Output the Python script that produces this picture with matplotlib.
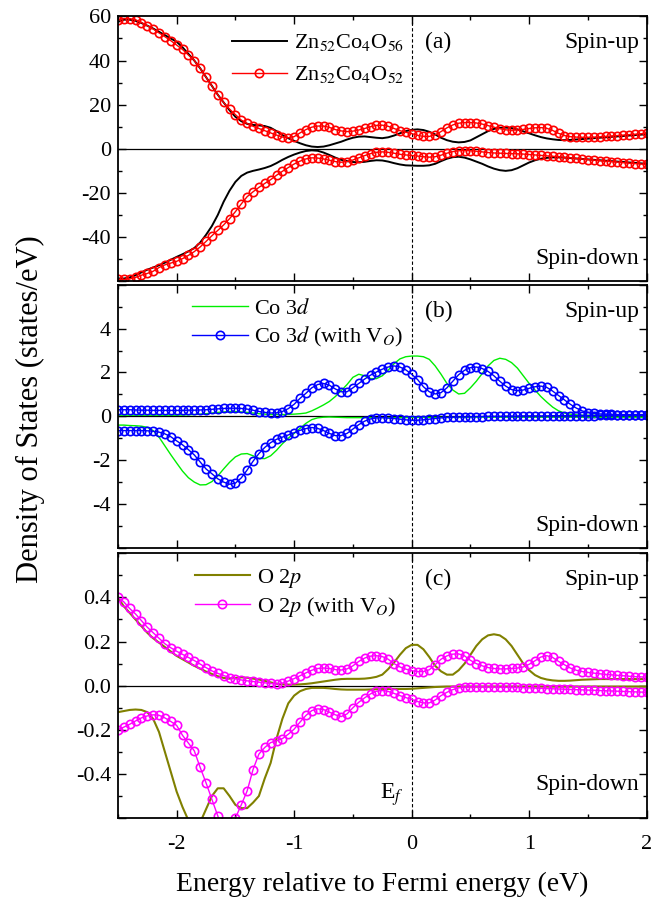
# Spin-resolved DOS of Zn52Co4O56 with and without oxygen vacancy

import numpy as np
import matplotlib
matplotlib.use('Agg')
import matplotlib.pyplot as plt
from matplotlib.ticker import MultipleLocator

plt.rcParams['font.family'] = ['Liberation Serif', 'DejaVu Serif']
plt.rcParams['mathtext.fontset'] = 'stix'
plt.rcParams['axes.unicode_minus'] = False

# Energy grid (eV), every 0.05 eV from -2.5 to 2.0
energy = np.linspace(-2.5, 2.0, 91)

# (a) total DOS
zn_up = [57.5, 58.5, 58.5, 58.0, 57.0, 55.8, 54.5, 53.0, 51.5, 50.0,
         48.5, 46.0, 43.0, 40.0, 36.5, 32.5, 28.5, 24.5, 21.0, 17.5,
         14.5, 12.5, 11.3, 10.8, 10.6, 10.3, 9.5, 8.0, 6.2, 4.8,
         3.6, 2.5, 1.6, 1.0, 0.8, 1.0, 1.6, 2.4, 3.2, 4.2,
         5.0, 5.5, 5.6, 5.3, 5.0, 4.8, 5.2, 6.0, 7.0, 8.0,
         8.6, 8.8, 8.5, 7.7, 6.5, 5.0, 3.9, 3.2, 2.9, 3.1,
         3.8, 5.2, 6.6, 8.0, 9.0, 9.5, 9.6, 9.4, 8.8, 7.9,
         7.0, 6.1, 5.3, 4.7, 4.3, 4.0, 3.9, 4.0, 4.2, 4.4,
         4.6, 4.8, 5.0, 5.2, 5.4, 5.6, 5.8, 6.0, 6.2, 6.4,
         6.6]
zn_dn = [-58.8, -58.8, -58.3, -57.3, -56.0, -54.8, -53.8, -52.8, -51.6, -50.3,
         -49.0, -47.8, -46.5, -45.0, -42.5, -39.0, -35.0, -30.0, -24.0, -19.0,
         -15.0, -12.3, -10.8, -10.0, -9.4, -8.7, -7.8, -6.5, -5.0, -3.7,
         -2.6, -1.7, -1.0, -0.7, -0.9, -1.7, -2.8, -4.0, -5.0, -5.6,
         -6.0, -6.1, -5.9, -5.5, -5.2, -5.3, -5.8, -6.5, -7.1, -7.5,
         -7.6, -7.7, -7.7, -7.5, -6.8, -5.6, -4.5, -3.8, -3.6, -4.0,
         -4.8, -5.8, -6.8, -8.0, -9.0, -9.7, -10.0, -9.7, -8.8, -7.5,
         -6.2, -5.2, -4.5, -4.1, -3.9, -3.9, -4.0, -4.2, -4.4, -4.6,
         -4.8, -5.0, -5.2, -5.4, -5.6, -5.8, -6.0, -6.2, -6.4, -6.6,
         -6.8]
znv_up = [58.5, 59.0, 59.0, 58.5, 57.2, 55.8, 54.3, 52.5, 50.8, 49.0,
          47.0, 45.0, 42.5, 40.0, 36.5, 32.5, 28.5, 24.5, 21.0, 18.0,
          15.5, 13.0, 11.5, 10.2, 9.2, 8.2, 7.2, 6.2, 5.3, 5.0,
          5.5, 7.2, 8.7, 9.8, 10.3, 10.3, 9.7, 8.7, 8.1, 7.8,
          8.0, 8.5, 9.2, 10.0, 10.6, 10.7, 10.2, 9.2, 8.2, 7.5,
          6.9, 6.1, 5.6, 5.6, 6.3, 7.8, 9.5, 10.8, 11.6, 11.9,
          11.9, 11.7, 11.2, 10.5, 9.8, 9.1, 8.6, 8.4, 8.5, 8.8,
          9.2, 9.5, 9.6, 9.3, 8.3, 7.0, 6.0, 5.5, 5.3, 5.2,
          5.2, 5.3, 5.4, 5.6, 5.8, 6.0, 6.2, 6.4, 6.6, 6.8,
          7.0]
znv_dn = [-59.2, -59.2, -59.0, -58.3, -57.3, -56.5, -55.5, -53.8, -52.6, -51.8,
          -51.0, -49.8, -48.3, -46.6, -44.5, -42.0, -39.4, -37.0, -34.5, -31.7,
          -28.5, -25.0, -21.7, -19.5, -17.5, -15.7, -14.0, -12.0, -10.2, -8.5,
          -6.9, -5.6, -4.6, -4.1, -4.2, -4.6, -5.2, -5.8, -6.1, -5.8,
          -5.1, -4.1, -3.1, -2.2, -1.6, -1.4, -1.6, -2.0, -2.5, -2.8,
          -3.0, -3.3, -3.6, -3.8, -3.6, -2.9, -2.0, -1.3, -0.9, -0.8,
          -0.9, -1.1, -1.4, -1.7, -1.9, -2.0, -2.1, -2.2, -2.3, -2.4,
          -2.6, -2.8, -3.0, -3.2, -3.4, -3.6, -3.9, -4.1, -4.4, -4.6,
          -4.9, -5.1, -5.4, -5.6, -5.8, -6.0, -6.3, -6.5, -6.7, -6.9,
          -7.1]

# (b) Co 3d
co_up = [0.05, 0.05, 0.05, 0.05, 0.05, 0.05, 0.05, 0.05, 0.05, 0.05,
         0.05, 0.06, 0.07, 0.08, 0.10, 0.12, 0.15, 0.18, 0.20, 0.22,
         0.22, 0.20, 0.18, 0.15, 0.12, 0.10, 0.08, 0.08, 0.08, 0.09,
         0.10, 0.12, 0.15, 0.25, 0.38, 0.52, 0.68, 0.90, 1.17, 1.45,
         1.78, 1.92, 1.85, 1.72, 1.72, 1.85, 2.10, 2.40, 2.62, 2.72,
         2.75, 2.75, 2.72, 2.60, 2.30, 1.92, 1.50, 1.20, 1.02, 1.05,
         1.30, 1.60, 1.95, 2.30, 2.55, 2.65, 2.60, 2.45, 2.20, 1.85,
         1.50, 1.20, 0.90, 0.65, 0.42, 0.25, 0.15, 0.10, 0.07, 0.05,
         0.05, 0.05, 0.05, 0.05, 0.05, 0.05, 0.05, 0.05, 0.05, 0.05,
         0.05]
co_dn = [-0.40, -0.40, -0.42, -0.43, -0.45, -0.50, -0.65, -0.95, -1.35, -1.75,
         -2.13, -2.50, -2.80, -3.00, -3.13, -3.12, -2.98, -2.72, -2.40, -2.10,
         -1.85, -1.72, -1.70, -1.80, -1.92, -1.93, -1.80, -1.55, -1.25, -1.00,
         -0.78, -0.55, -0.32, -0.15, -0.07, -0.04, -0.03, -0.04, -0.05, -0.06,
         -0.06, -0.06, -0.06, -0.06, -0.06, -0.06, -0.06, -0.06, -0.06, -0.06,
         -0.05, -0.05, -0.05, -0.05, -0.05, -0.05, -0.05, -0.05, -0.05, -0.05,
         -0.04, -0.04, -0.04, -0.04, -0.04, -0.04, -0.04, -0.04, -0.04, -0.04,
         -0.04, -0.04, -0.04, -0.04, -0.04, -0.04, -0.04, -0.04, -0.04, -0.04,
         -0.04, -0.04, -0.04, -0.04, -0.04, -0.04, -0.04, -0.04, -0.04, -0.04,
         -0.04]
cov_up = [0.30, 0.30, 0.30, 0.29, 0.28, 0.28, 0.27, 0.27, 0.27, 0.27,
          0.27, 0.27, 0.28, 0.28, 0.29, 0.30, 0.32, 0.34, 0.36, 0.37,
          0.37, 0.36, 0.33, 0.28, 0.22, 0.18, 0.15, 0.16, 0.22, 0.35,
          0.55, 0.82, 1.05, 1.30, 1.45, 1.50, 1.42, 1.25, 1.12, 1.12,
          1.30, 1.50, 1.70, 1.88, 2.02, 2.15, 2.25, 2.30, 2.25, 2.12,
          1.92, 1.68, 1.35, 1.12, 1.02, 1.08, 1.30, 1.60, 1.90, 2.10,
          2.22, 2.25, 2.18, 2.05, 1.85, 1.60, 1.38, 1.22, 1.17, 1.20,
          1.28, 1.35, 1.38, 1.32, 1.15, 0.95, 0.75, 0.55, 0.38, 0.25,
          0.17, 0.13, 0.11, 0.10, 0.09, 0.08, 0.08, 0.08, 0.08, 0.08,
          0.08]
cov_dn = [-0.65, -0.65, -0.65, -0.65, -0.65, -0.66, -0.68, -0.72, -0.80, -0.93,
          -1.12, -1.30, -1.52, -1.76, -2.08, -2.40, -2.62, -2.85, -3.00, -3.10,
          -3.05, -2.81, -2.45, -2.05, -1.70, -1.42, -1.20, -1.05, -0.95, -0.85,
          -0.75, -0.64, -0.56, -0.51, -0.55, -0.65, -0.78, -0.88, -0.88, -0.78,
          -0.58, -0.38, -0.22, -0.12, -0.07, -0.06, -0.08, -0.10, -0.13, -0.16,
          -0.18, -0.18, -0.16, -0.13, -0.10, -0.07, -0.05, -0.04, -0.03, -0.02,
          -0.02, -0.01, -0.01, 0.00, 0.00, 0.00, 0.01, 0.01, 0.01, 0.02,
          0.02, 0.02, 0.02, 0.02, 0.03, 0.03, 0.03, 0.03, 0.03, 0.03,
          0.03, 0.03, 0.04, 0.04, 0.04, 0.04, 0.04, 0.05, 0.05, 0.05,
          0.05]

# (c) O 2p
o_up = [0.400, 0.360, 0.330, 0.300, 0.270, 0.240, 0.215, 0.195, 0.175, 0.155,
        0.135, 0.120, 0.105, 0.090, 0.077, 0.064, 0.053, 0.043, 0.035, 0.032,
        0.035, 0.038, 0.036, 0.032, 0.028, 0.022, 0.015, 0.009, 0.006, 0.005,
        0.005, 0.006, 0.008, 0.011, 0.015, 0.019, 0.023, 0.027, 0.030, 0.031,
        0.031, 0.031, 0.032, 0.035, 0.040, 0.050, 0.075, 0.105, 0.140, 0.170,
        0.185, 0.185, 0.165, 0.130, 0.090, 0.065, 0.050, 0.050, 0.070, 0.100,
        0.140, 0.180, 0.210, 0.228, 0.233, 0.228, 0.210, 0.180, 0.140, 0.100,
        0.070, 0.048, 0.035, 0.028, 0.024, 0.022, 0.022, 0.023, 0.025, 0.027,
        0.028, 0.029, 0.030, 0.030, 0.030, 0.030, 0.030, 0.030, 0.030, 0.030,
        0.030]
o_dn = [-0.120, -0.115, -0.110, -0.108, -0.110, -0.120, -0.150, -0.210, -0.300, -0.390,
        -0.480, -0.550, -0.610, -0.650, -0.620, -0.560, -0.500, -0.465, -0.465, -0.500,
        -0.540, -0.555, -0.555, -0.530, -0.500, -0.420, -0.350, -0.240, -0.150, -0.080,
        -0.045, -0.025, -0.015, -0.010, -0.010, -0.010, -0.012, -0.015, -0.017, -0.018,
        -0.018, -0.018, -0.018, -0.017, -0.016, -0.015, -0.015, -0.015, -0.015, -0.015,
        -0.014, -0.012, -0.010, -0.008, -0.006, -0.005, -0.004, -0.004, -0.004, -0.004,
        -0.004, -0.004, -0.004, -0.004, -0.004, -0.004, -0.004, -0.004, -0.004, -0.004,
        -0.004, -0.004, -0.004, -0.004, -0.004, -0.004, -0.004, -0.004, -0.004, -0.004,
        -0.004, -0.004, -0.004, -0.004, -0.004, -0.004, -0.004, -0.004, -0.004, -0.004,
        -0.004]
ov_up = [0.400, 0.380, 0.350, 0.325, 0.295, 0.265, 0.240, 0.215, 0.190, 0.172,
         0.156, 0.142, 0.128, 0.114, 0.098, 0.082, 0.067, 0.056, 0.046, 0.037,
         0.031, 0.026, 0.022, 0.019, 0.016, 0.013, 0.010, 0.008, 0.012, 0.021,
         0.032, 0.045, 0.058, 0.070, 0.078, 0.080, 0.078, 0.073, 0.071, 0.076,
         0.090, 0.110, 0.125, 0.134, 0.136, 0.132, 0.120, 0.100, 0.085, 0.075,
         0.068, 0.064, 0.064, 0.072, 0.095, 0.120, 0.135, 0.143, 0.144, 0.135,
         0.115, 0.100, 0.090, 0.082, 0.078, 0.076, 0.076, 0.078, 0.080, 0.085,
         0.097, 0.113, 0.130, 0.136, 0.128, 0.110, 0.095, 0.080, 0.070, 0.064,
         0.060, 0.057, 0.054, 0.051, 0.049, 0.047, 0.045, 0.043, 0.041, 0.040,
         0.038]
ov_dn = [-0.200, -0.188, -0.175, -0.160, -0.146, -0.137, -0.132, -0.134, -0.146, -0.162,
         -0.180, -0.225, -0.260, -0.295, -0.370, -0.440, -0.515, -0.590, -0.660, -0.670,
         -0.600, -0.540, -0.477, -0.380, -0.310, -0.280, -0.258, -0.250, -0.240, -0.220,
         -0.197, -0.165, -0.135, -0.113, -0.105, -0.108, -0.120, -0.132, -0.140, -0.128,
         -0.100, -0.075, -0.055, -0.037, -0.025, -0.022, -0.026, -0.035, -0.045, -0.054,
         -0.062, -0.072, -0.078, -0.078, -0.065, -0.045, -0.030, -0.018, -0.010, -0.006,
         -0.005, -0.005, -0.005, -0.006, -0.006, -0.007, -0.007, -0.008, -0.008, -0.009,
         -0.010, -0.011, -0.012, -0.013, -0.014, -0.015, -0.016, -0.017, -0.018, -0.019,
         -0.020, -0.021, -0.022, -0.023, -0.024, -0.025, -0.026, -0.027, -0.028, -0.029,
         -0.030]

fig = plt.figure(figsize=(6.66, 9.10), dpi=100)
left, width = 0.177, 0.794
axa = fig.add_axes([left, 0.691, width, 0.291])
axb = fig.add_axes([left, 0.398, width, 0.289])
axc = fig.add_axes([left, 0.101, width, 0.291])

mk = dict(marker='o', markersize=6, mfc='none', mew=1.2, lw=1.0)
fs = 16   # tick labels
ts = 17   # panel annotations
leg = dict(loc='upper left', frameon=False, fontsize=16, handlelength=2.5,
           handletextpad=0.3, borderaxespad=0.2)


def style(ax, ylim, major, minor, fmt, letter, down_y):
    ax.set_xlim(-2.5, 2.0)
    ax.set_ylim(*ylim)
    ax.axhline(0, color='k', lw=0.9, zorder=1)
    ax.axvline(0, color='k', lw=0.8, ls=(0, (3, 2)), zorder=1)
    ax.xaxis.set_major_locator(MultipleLocator(1))
    ax.xaxis.set_minor_locator(MultipleLocator(0.5))
    ax.yaxis.set_major_locator(MultipleLocator(major))
    ax.yaxis.set_minor_locator(MultipleLocator(minor))
    ax.yaxis.set_major_formatter(fmt)
    ax.tick_params(which='both', direction='in', top=True, right=True,
                   labelsize=fs, width=1.0)
    ax.tick_params(which='major', length=6)
    ax.tick_params(which='minor', length=3)
    ax.tick_params(axis='x', pad=12)
    ax.tick_params(axis='y', pad=5)
    for s in ax.spines.values():
        s.set_linewidth(1.3)
    ax.text(0.58, 0.90, letter, transform=ax.transAxes, fontsize=ts, va='center')
    ax.text(0.985, 0.90, 'Spin-up', transform=ax.transAxes, fontsize=ts,
            ha='right', va='center')
    ax.text(0.985, down_y, 'Spin-down', transform=ax.transAxes, fontsize=ts,
            ha='right', va='center')


# (a)
axa.plot(energy, zn_up, color='k', lw=1.4, label=r'Zn$_{52}$Co$_4$O$_{56}$')
axa.plot(energy, znv_up, color='red', label=r'Zn$_{52}$Co$_4$O$_{52}$', **mk)
axa.plot(energy, zn_dn, color='k', lw=1.4)
axa.plot(energy, znv_dn, color='red', **mk)
style(axa, (-60, 60), 20, 10, lambda v, p: '' if v <= -60 else '%d' % v,
      '(a)', 0.085)
axa.tick_params(labelbottom=False)
axa.legend(bbox_to_anchor=(0.19, 0.99), labelspacing=0.5, **leg)

# (b)
axb.plot(energy, co_up, color='#00ee00', lw=1.0, label=r'Co 3$d$')
axb.plot(energy, cov_up, color='#0000ff', label=r'Co 3$d$ (with V$_O$)', **mk)
axb.plot(energy, co_dn, color='#00ee00', lw=1.0)
axb.plot(energy, cov_dn, color='#0000ff', **mk)
style(axb, (-6, 6), 2, 1, lambda v, p: '' if abs(v) >= 6 else '%d' % v,
      '(b)', 0.085)
axb.tick_params(labelbottom=False)
axb.legend(bbox_to_anchor=(0.115, 1.0), labelspacing=0.3, **leg)

# (c)
axc.plot(energy, o_up, color='#808000', lw=1.5, label=r'O 2$p$')
axc.plot(energy, ov_up, color='#ff00ff', label=r'O 2$p$ (with V$_O$)', **mk)
axc.plot(energy, o_dn, color='#808000', lw=1.5)
axc.plot(energy, ov_dn, color='#ff00ff', **mk)
style(axc, (-0.6, 0.6), 0.2, 0.1,
      lambda v, p: '' if abs(v) >= 0.59 else '%.1f' % v, '(c)', 0.125)
axc.legend(bbox_to_anchor=(0.12, 1.0), labelspacing=0.25, **leg)
axc.text(-0.07, -0.495, r'E$_f$', fontsize=ts, ha='right', va='center')

axc.set_xlabel('Energy relative to Fermi energy (eV)', fontsize=20, labelpad=13)
fig.text(0.045, 0.55, 'Density of States (states/eV)', fontsize=22,
         rotation=90, ha='center', va='center')

fig.savefig('out.png', dpi=100)
